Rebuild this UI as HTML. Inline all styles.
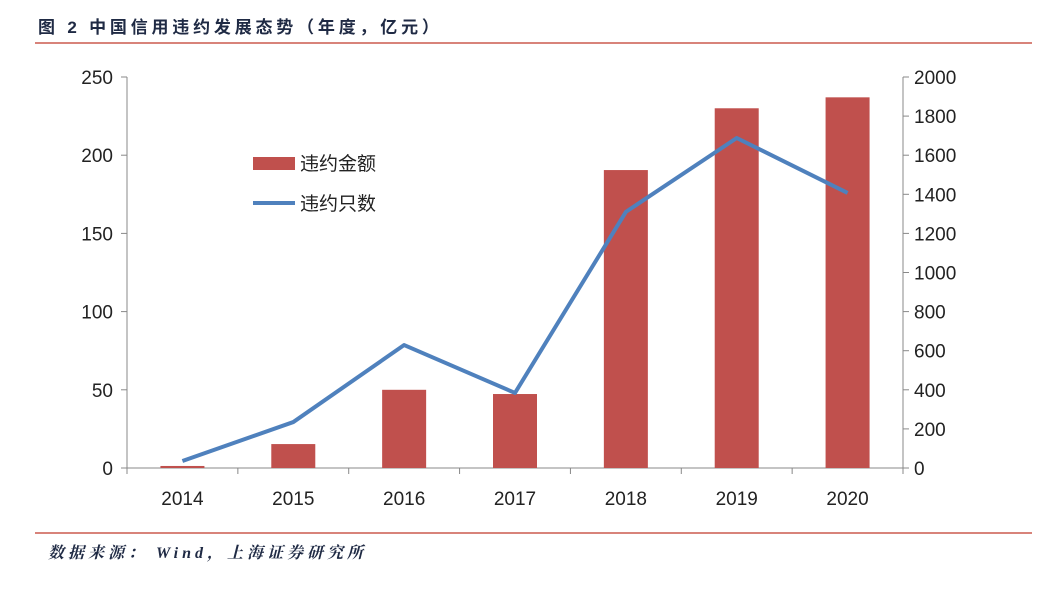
<!DOCTYPE html>
<html><head><meta charset="utf-8"><style>
body{margin:0;background:#fff;width:1064px;height:590px;overflow:hidden;font-family:"Liberation Sans","Noto Sans CJK SC",sans-serif}
</style></head><body>
<svg width="1064" height="590">
<text x="38" y="33" font-size="17" font-weight="bold" fill="#1f2a44" letter-spacing="3.8" font-family="Liberation Sans,Noto Sans CJK SC,sans-serif">图 2 中国信用违约发展态势（年度，亿元）</text>
<line x1="35" y1="43" x2="1032" y2="43" stroke="#c0392b" stroke-width="1.2"/>
<g id="axes"></g><g id="bars"></g><g id="line"></g>
<g>
<rect x="253" y="157" width="42" height="13" fill="#c0504d"/>
<text x="300" y="170" font-size="19" fill="#222">违约金额</text>
<line x1="253" y1="203" x2="295" y2="203" stroke="#4f81bd" stroke-width="4"/>
<text x="300" y="210" font-size="19" fill="#222">违约只数</text>
</g>
<line x1="35" y1="533" x2="1032" y2="533" stroke="#c0392b" stroke-width="1.2"/>
<text x="48" y="558" font-size="16" font-weight="bold" font-style="italic" fill="#1f2a44" letter-spacing="4" font-family="Liberation Serif,Noto Serif CJK SC,serif">数据来源： Wind，上海证券研究所</text>
</svg>
<script>
const categories=["2014","2015","2016","2017","2018","2019","2020"];
const amounts=[1.3,15.3,50,47.3,190.5,230,237];
const counts=[36,235,629,384,1310,1688,1407];
const leftTicks=[0,50,100,150,200,250];
const rightTicks=[0,200,400,600,800,1000,1200,1400,1600,1800,2000];
const NS="http://www.w3.org/2000/svg";
const X0=127,X1=903,Y0=468,Y1=77;
const bw=(X1-X0)/categories.length;
const xc=i=>X0+bw*(i+0.5);
const yl=v=>Y0-(v/250)*(Y0-Y1);
const yr=v=>Y0-(v/2000)*(Y0-Y1);
function mk(t,a,p){const e=document.createElementNS(NS,t);for(const k in a)e.setAttribute(k,a[k]);p.appendChild(e);return e;}
const ax=document.getElementById('axes');
let e=mk('line',{x1:X0,y1:Y1,x2:X0,y2:Y0,stroke:'#888'},ax);


e=mk('line',{x1:X1,y1:Y1,x2:X1,y2:Y0,stroke:'#888'},ax);


e=mk('line',{x1:X0,y1:Y0,x2:X1,y2:Y0,stroke:'#888'},ax);


leftTicks.forEach(v=>{const y=yl(v);mk('line',{x1:X0-6,y1:y,x2:X0,y2:y,stroke:'#888'},ax);
const t=mk('text',{x:X0-14,y:y+7,'text-anchor':'end','font-size':19,fill:'#222'},ax);t.textContent=v;

});
rightTicks.forEach(v=>{const y=yr(v);mk('line',{x1:X1,y1:y,x2:X1+6,y2:y,stroke:'#888'},ax);
const t=mk('text',{x:X1+11,y:y+7,'font-size':19,fill:'#222'},ax);t.textContent=v;

});
for(let i=0;i<=categories.length;i++)mk('line',{x1:X0+bw*i,y1:Y0,x2:X0+bw*i,y2:Y0+6,stroke:'#888'},ax);
categories.forEach((c,i)=>{const t=mk('text',{x:xc(i),y:Y0+37,'text-anchor':'middle','font-size':19,fill:'#222'},ax);t.textContent=c;

});
const bg=document.getElementById('bars');
amounts.forEach((v,i)=>{const r=mk('rect',{x:xc(i)-22,y:yl(v),width:44,height:Y0-yl(v),fill:'#c0504d'},bg);

});
const lg=document.getElementById('line');
const p=mk('polyline',{points:counts.map((v,i)=>xc(i)+','+yr(v)).join(' '),fill:'none',stroke:'#4f81bd','stroke-width':4,'stroke-linejoin':'round'},lg);


</script>
</body></html>
